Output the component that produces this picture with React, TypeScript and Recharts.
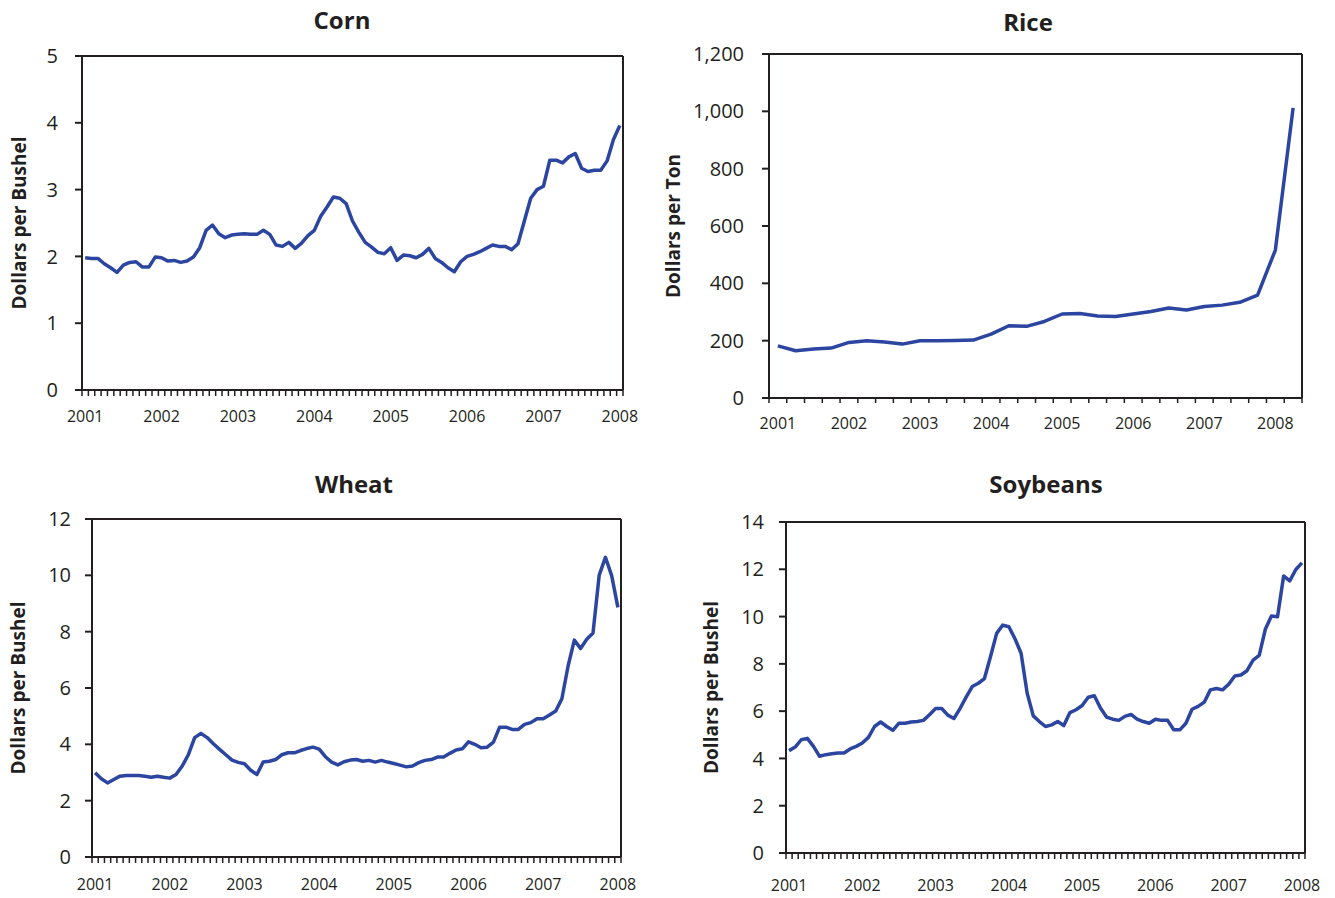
import React from 'react';
import { LineChart, Line, XAxis, YAxis, CartesianGrid } from 'recharts';

const INK = '#231F20';
const BLUE = '#2B45A0';
const FONT = '"Open Sans", "Noto Sans", Arial, sans-serif';

// monthly periods Jan 2001 .. Jan 2008
const months: string[] = [];
for (let y = 2001; y <= 2007; y++) {
  for (let m = 1; m <= 12; m++) months.push(`${y}-${String(m).padStart(2, '0')}`);
}
months.push('2008-01');

// quarterly periods 2001 Q1 .. 2008 Q2
const quarters: string[] = [];
for (let y = 2001; y <= 2008; y++) {
  for (let q = 1; q <= 4; q++) quarters.push(`${y}-Q${q}`);
}
const riceQuarters = quarters.slice(0, 30);

const cornPrice = [
  1.98, 1.97, 1.97, 1.89, 1.83, 1.76, 1.87, 1.91, 1.92, 1.84, 1.84, 1.99,
  1.98, 1.93, 1.94, 1.91, 1.93, 1.99, 2.13, 2.39, 2.47, 2.34, 2.28, 2.32,
  2.33, 2.34, 2.33, 2.33, 2.39, 2.33, 2.17, 2.15, 2.21, 2.12, 2.2, 2.31,
  2.39, 2.6, 2.74, 2.89, 2.87, 2.79, 2.53, 2.36, 2.21, 2.14, 2.06, 2.04,
  2.13, 1.94, 2.02, 2.01, 1.98, 2.03, 2.12, 1.97, 1.91, 1.83, 1.77, 1.92,
  2.0, 2.03, 2.07, 2.12, 2.17, 2.15, 2.15, 2.1, 2.19, 2.53, 2.87, 3.0,
  3.05, 3.44, 3.44, 3.4, 3.49, 3.54, 3.32, 3.27, 3.29, 3.29, 3.43, 3.75,
  3.96,
];

const ricePrice = [
  182, 165, 171, 174, 194, 200, 195, 188, 200, 200, 201, 202, 223, 252, 250,
  267, 293, 295, 286, 284, 293, 302, 314, 307, 319, 324, 334, 359, 516, 1012,
];

const wheatPrice = [
  2.99, 2.78, 2.63, 2.75, 2.87, 2.89, 2.89, 2.89, 2.87, 2.83, 2.87, 2.83,
  2.8, 2.93, 3.23, 3.64, 4.24, 4.39, 4.24, 4.02, 3.82, 3.63, 3.44, 3.36,
  3.31, 3.08, 2.93, 3.37, 3.4, 3.46, 3.63, 3.7, 3.7, 3.78, 3.85, 3.9,
  3.83, 3.56, 3.37, 3.27, 3.38, 3.44, 3.46, 3.4, 3.43, 3.37, 3.43, 3.37,
  3.32, 3.26, 3.2, 3.23, 3.35, 3.43, 3.46, 3.55, 3.55, 3.68, 3.8, 3.84,
  4.09, 4.0, 3.88, 3.9, 4.08, 4.61, 4.61, 4.53, 4.53, 4.71, 4.77, 4.91,
  4.91, 5.04, 5.18, 5.62, 6.78, 7.7, 7.4, 7.73, 7.95, 10.01, 10.64, 9.99,
  8.86,
];

const soybeanPrice = [
  4.33, 4.48, 4.79, 4.85, 4.51, 4.09, 4.16, 4.2, 4.23, 4.23, 4.4, 4.51,
  4.65, 4.89, 5.35, 5.54, 5.35, 5.19, 5.49, 5.49, 5.54, 5.56, 5.61, 5.85,
  6.11, 6.11, 5.83, 5.69, 6.11, 6.59, 7.04, 7.18, 7.38, 8.31, 9.29, 9.64,
  9.57, 9.06, 8.45, 6.76, 5.8, 5.56, 5.35, 5.42, 5.56, 5.39, 5.94, 6.06,
  6.24, 6.59, 6.65, 6.13, 5.75, 5.66, 5.61, 5.78, 5.86, 5.66, 5.56, 5.49,
  5.66, 5.61, 5.61, 5.21, 5.21, 5.49, 6.08, 6.2, 6.38, 6.9, 6.96, 6.9,
  7.14, 7.49, 7.53, 7.71, 8.16, 8.36, 9.46, 10.02, 9.99, 11.72, 11.51, 11.99,
  12.27,
];

const cornTicks = [0, 1, 2, 3, 4, 5];
const riceTicks = [0, 200, 400, 600, 800, 1000, 1200];
const wheatTicks = [0, 2, 4, 6, 8, 10, 12];
const soybeanTicks = [0, 2, 4, 6, 8, 10, 12, 14];

const isYearStart = (p: string) => p.endsWith('-01') || p.endsWith('-Q1');

// tick mark sits on the band boundary, year label in the band centre
function PeriodTick(props: any) {
  const { x, y, payload, width, visibleTicksCount, tickLen, labelDrop, lastPeriod } = props;
  const half =
    typeof payload.offset === 'number' && payload.offset > 0
      ? payload.offset
      : width / visibleTicksCount / 2;
  const value = String(payload.value);
  return (
    <g>
      <line x1={x - half} x2={x - half} y1={y} y2={y + tickLen} stroke={INK} strokeWidth={1.5} />
      {value === lastPeriod && (
        <line x1={x + half} x2={x + half} y1={y} y2={y + tickLen} stroke={INK} strokeWidth={1.5} />
      )}
      {isYearStart(value) && (
        <text x={x} y={y + labelDrop} textAnchor="middle" fill={INK} fontSize={16} fontFamily={FONT}>
          {value.slice(0, 4)}
        </text>
      )}
    </g>
  );
}

type PanelProps = {
  unit: string;
  periods: string[];
  prices: number[];
  yTicks: number[];
  box: [number, number, number, number];
  axisWidth: number;
  right: number;
  top: number;
  axisHeight: number;
  yTickGap: number;
  xTickLen: number;
  labelDrop: number;
  unitX: number;
};

function PricePanel(p: PanelProps) {
  const [left, top, width, height] = p.box;
  const data = p.periods.map((period, i) => ({ period, price: p.prices[i] }));
  const frame = { stroke: INK, strokeWidth: 2 };
  const lastPeriod = p.periods[p.periods.length - 1];
  return (
    <div style={{ position: 'absolute', left, top, width, height }}>
      <LineChart width={width} height={height} data={data} margin={{ top: p.top, right: p.right, bottom: 0, left: 0 }}>
        {/* top and right edges of the plot frame */}
        <CartesianGrid
          stroke={INK}
          strokeWidth={2}
          horizontalCoordinatesGenerator={({ offset }: any) => [offset.top]}
          verticalCoordinatesGenerator={({ offset }: any) => [offset.left + offset.width]}
        />
        <XAxis
          dataKey="period"
          scale="band"
          interval={0}
          height={p.axisHeight}
          tickLine={false}
          tickSize={0}
          tickMargin={0}
          axisLine={frame}
          tick={(tp: any) => (
            <PeriodTick {...tp} tickLen={p.xTickLen} labelDrop={p.labelDrop} lastPeriod={lastPeriod} />
          )}
        />
        <YAxis
          domain={[0, p.yTicks[p.yTicks.length - 1]]}
          ticks={p.yTicks}
          interval={0}
          width={p.axisWidth}
          tickSize={7}
          tickMargin={p.yTickGap}
          axisLine={frame}
          tickLine={frame}
          tick={{ fill: INK, fontSize: 20, fontFamily: FONT }}
          tickFormatter={(v: number) => v.toLocaleString('en-US')}
          label={{
            value: p.unit,
            angle: -90,
            position: 'insideLeft',
            offset: p.unitX,
            style: { textAnchor: 'middle', fill: INK, fontSize: 19, fontWeight: 700, fontFamily: FONT },
          }}
        />
        <Line
          type="linear"
          dataKey="price"
          stroke={BLUE}
          strokeWidth={3.5}
          strokeLinejoin="round"
          dot={false}
          activeDot={false}
          isAnimationActive={false}
        />
      </LineChart>
    </div>
  );
}

const titles = [
  { text: 'Corn', x: 342, y: 29 },
  { text: 'Rice', x: 1028, y: 31 },
  { text: 'Wheat', x: 354, y: 493 },
  { text: 'Soybeans', x: 1046, y: 493 },
];

export default function App() {
  return (
    <div style={{ position: 'absolute', left: 0, top: 0, width: 1335, height: 898, background: '#fff', fontFamily: FONT }}>
      <PricePanel
        unit="Dollars per Bushel"
        periods={months}
        prices={cornPrice}
        yTicks={cornTicks}
        box={[0, 0, 650, 449]}
        axisWidth={82}
        right={27}
        top={56}
        axisHeight={59}
        yTickGap={17}
        xTickLen={6}
        labelDrop={32}
        unitX={19}
      />
      <PricePanel
        unit="Dollars per Ton"
        periods={riceQuarters}
        prices={ricePrice}
        yTicks={riceTicks}
        box={[650, 0, 685, 449]}
        axisWidth={119}
        right={33}
        top={54}
        axisHeight={51}
        yTickGap={18}
        xTickLen={5}
        labelDrop={31}
        unitX={23}
      />
      <PricePanel
        unit="Dollars per Bushel"
        periods={months}
        prices={wheatPrice}
        yTicks={wheatTicks}
        box={[0, 449, 650, 449]}
        axisWidth={92}
        right={29}
        top={70}
        axisHeight={41}
        yTickGap={14}
        xTickLen={6}
        labelDrop={33}
        unitX={18}
      />
      <PricePanel
        unit="Dollars per Bushel"
        periods={months}
        prices={soybeanPrice}
        yTicks={soybeanTicks}
        box={[650, 449, 685, 449]}
        axisWidth={136}
        right={30}
        top={73}
        axisHeight={45}
        yTickGap={15}
        xTickLen={6}
        labelDrop={38}
        unitX={61}
      />
      <svg width={1335} height={898} style={{ position: 'absolute', left: 0, top: 0, pointerEvents: 'none' }}>
        {titles.map((t) => (
          <text key={t.text} x={t.x} y={t.y} textAnchor="middle" fill={INK} fontSize={24} fontWeight={700} fontFamily={FONT}>
            {t.text}
          </text>
        ))}
      </svg>
    </div>
  );
}
